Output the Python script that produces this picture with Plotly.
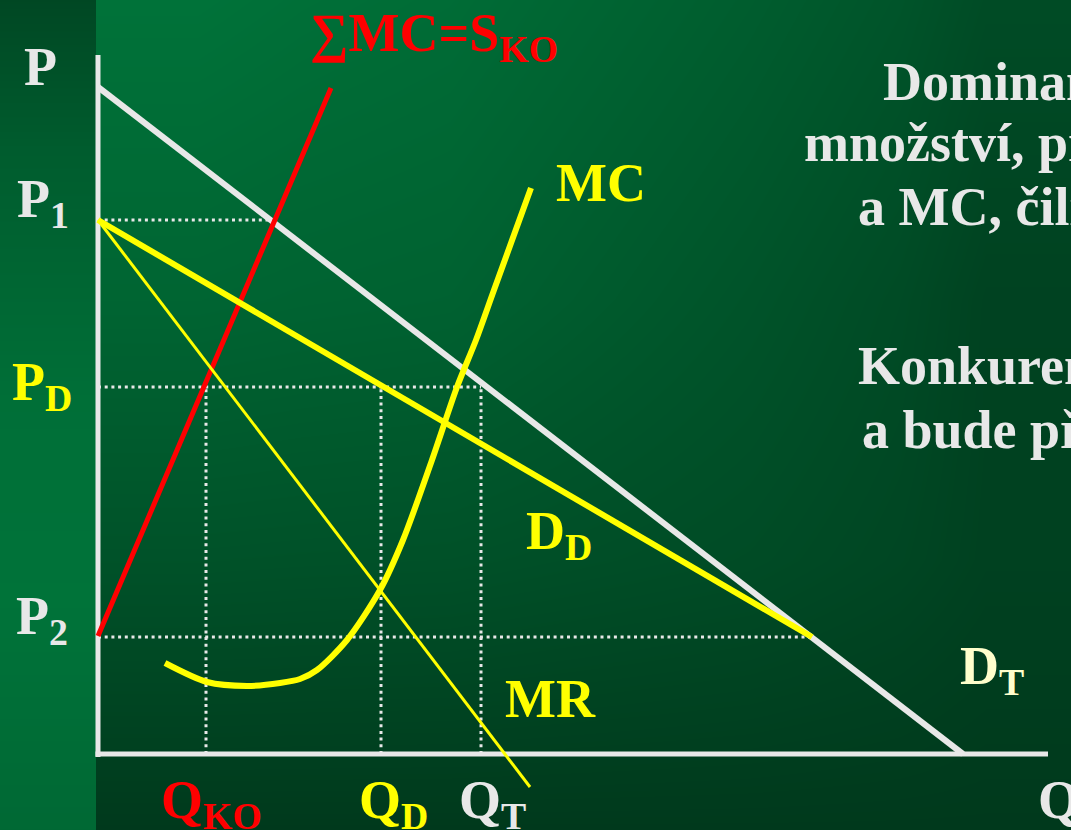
import plotly.graph_objects as go

# ---- market data (quantity Q, price P) ----
P1 = 53.4          # limit price (total demand meets fringe supply)
PD = 36.7          # price set by the dominant firm
P2 = 11.7          # price below which the fringe supplies nothing
Q_KO = 10.8        # fringe output at PD
Q_D = 28.3         # dominant firm output (MR = MC)
Q_T = 38.3         # total market output at PD

# total market demand D_T
dt_q = [0.0, 86.5]
dt_p = [66.7, 0.0]

# fringe supply: sum of fringe marginal costs
ko_q = [0.0, 23.3]
ko_p = [11.8, 66.6]

# residual demand of the dominant firm D_D and its marginal revenue MR
dd_q = [0.0, 71.4]
dd_p = [P1, P2]
mr_q = [0.0, 43.2]
mr_p = [P1, -3.3]

# marginal cost of the dominant firm
mc_q = [6.7, 10.9, 14.9, 18.2, 20.2, 21.9, 24.9, 28.2, 30.5, 33.4, 35.9, 37.8, 39.6, 43.3]
mc_p = [9.1, 7.2, 6.8, 7.1, 7.5, 8.4, 11.4, 16.4, 21.4, 29.4, 36.7, 41.4, 46.4, 56.6]

# axes extents
q_axis_end = 95.0
p_axis_end = 69.9

# background shading levels (0 = light green, 1 = dark green)
bg_x_edges = [-0.2, 20.2, 50.2, 80.2, 97.3]
bg_y = [75.4, 45.4, 19.4, -7.6]
bg_z = [
    [0.12, 0.22, 0.45, 0.72],
    [0.33, 0.38, 0.60, 0.86],
    [0.62, 0.64, 0.72, 0.88],
    [1.00, 1.00, 1.00, 1.00],
]
strip_x_edges = [-10.0, -5.0, -0.2]
strip_y = [75.4, 60.4, 35.4, 15.4, -7.6]
strip_z = [[0.78, 0.78], [0.46, 0.46], [0.17, 0.17], [0.11, 0.11], [0.27, 0.27]]

GREENS = [[0, "#007a3d"], [1, "#00391c"]]
WHITE = "#e8e8e8"
YELLOW = "#ffff00"
RED = "#ff0000"
SERIF = "Liberation Serif"

fig = go.Figure()

fig.add_trace(go.Heatmap(x=bg_x_edges, y=bg_y, z=bg_z, colorscale=GREENS, zmin=0, zmax=1,
                         zsmooth="best", showscale=False, hoverinfo="skip"))
fig.add_trace(go.Heatmap(x=strip_x_edges, y=strip_y, z=strip_z, colorscale=GREENS, zmin=0, zmax=1,
                         zsmooth="best", showscale=False, hoverinfo="skip"))


def line(x, y, color, width, dash=None, shape="linear", smoothing=None):
    ln = dict(color=color, width=width, dash=dash, shape=shape)
    if smoothing is not None:
        ln["smoothing"] = smoothing
    fig.add_trace(go.Scatter(x=x, y=y, mode="lines", hoverinfo="skip", showlegend=False, line=ln))


DOT = "3px,3.7px"
# guide lines
line([0, (P1 - ko_p[0]) / (ko_p[1] - ko_p[0]) * ko_q[1]], [P1, P1], WHITE, 3, DOT)
line([0, Q_T], [PD, PD], WHITE, 3, DOT)
line([0, dd_q[1]], [P2, P2], WHITE, 3, DOT)
for q in (Q_KO, Q_D, Q_T):
    line([q, q], [0, PD], WHITE, 3, DOT)

# axes
line([0, 0], [-0.3, p_axis_end], WHITE, 5)
line([-0.25, q_axis_end], [0, 0], WHITE, 5)

# curves
line(dt_q, dt_p, WHITE, 6)
line(ko_q, ko_p, RED, 5)
line(mr_q, mr_p, YELLOW, 3)
line(dd_q, dd_p, YELLOW, 6)
line(mc_q, mc_p, YELLOW, 6, shape="spline", smoothing=0.8)


def label(text, x, y, color, size=54):
    fig.add_annotation(x=x, y=y, xref="x", yref="y", text=f"<b>{text}</b>", showarrow=False,
                       xanchor="left", yanchor="top", align="left", borderpad=0,
                       font=dict(family=SERIF, size=size, color=color))


label("P", -7.5, 71.8, WHITE)
label("P<sub>1</sub>", -8.2, 58.6, WHITE)
label("P<sub>D</sub>", -8.7, 40.3, YELLOW)
label("P<sub>2</sub>", -8.3, 16.9, WHITE)
label("∑MC=S<sub>KO</sub>", 21.1, 75.2, RED)
label("MC", 45.7, 60.2, YELLOW)
label("D<sub>D</sub>", 42.7, 25.4, YELLOW)
label("MR", 40.6, 8.6, YELLOW)
label("D<sub>T</sub>", 86.1, 11.9, "#ffffcc")
label("Q<sub>KO</sub>", 6.2, -1.5, RED)
label("Q<sub>D</sub>", 26.0, -1.5, YELLOW)
label("Q<sub>T</sub>", 36.0, -1.5, WHITE)
label("Q", 93.9, -1.5, WHITE)

# explanatory text on the right
label("Dominantní firma vyrábí", 78.4, 70.3, WHITE)
label("množství, při němž se rovná MR", 70.5, 64.2, WHITE)
label("a MC, čili Q<sub>D</sub>.", 75.9, 57.8, WHITE)
label("Konkurenční okraj vyrobí Q<sub>KO</sub>", 75.9, 41.9, WHITE)
label("a bude přijímat cenu P<sub>D</sub>.", 76.3, 35.5, WHITE)

fig.update_layout(
    width=1071, height=830,
    margin=dict(l=0, r=0, t=0, b=0),
    paper_bgcolor="#004a25", plot_bgcolor="#004a25",
    showlegend=False,
    xaxis=dict(range=[-9.8, 97.3], visible=False, fixedrange=True),
    yaxis=dict(range=[-7.6, 75.4], visible=False, fixedrange=True),
)

fig.write_html("out.html", config={"displayModeBar": False})
